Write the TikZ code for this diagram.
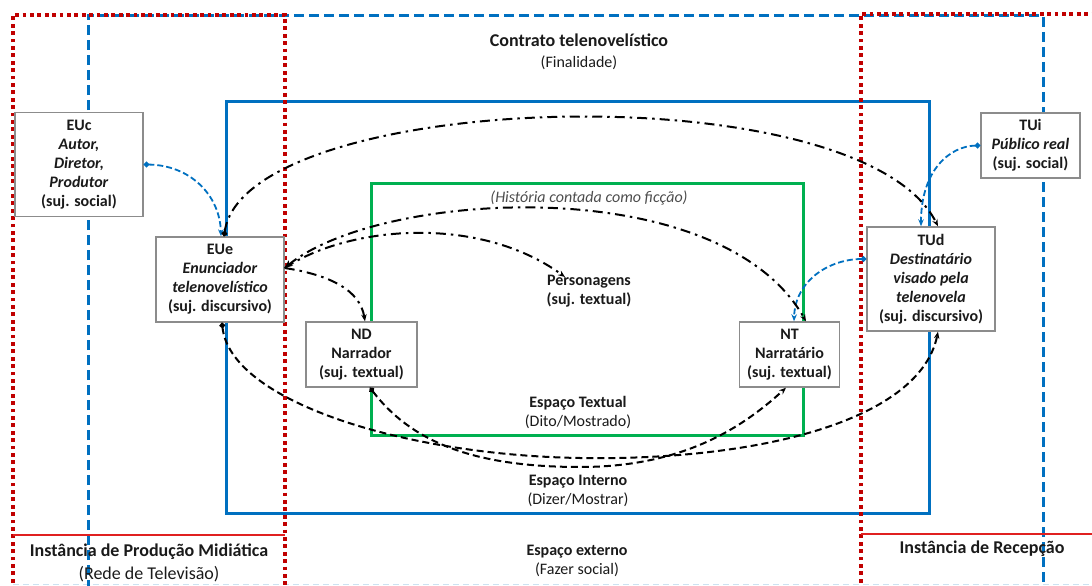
\documentclass[tikz,border=0pt]{standalone}
\usepackage{fontspec}
\setmainfont{Carlito}
\usetikzlibrary{arrows.meta}
\definecolor{fred}{HTML}{C00000}
\definecolor{lred}{HTML}{E02020}
\definecolor{fblue}{HTML}{0070C0}
\definecolor{fgreen}{HTML}{00B050}
\definecolor{bgray}{HTML}{8C8C8C}
\definecolor{txt}{HTML}{1A1A1A}
\definecolor{hist}{HTML}{4D4D4D}
\newcommand{\bodyfnt}{\fontsize{16}{19}\selectfont}
\newcommand{\headfnt}{\fontsize{18}{23}\selectfont}
\begin{document}
\begin{tikzpicture}[x=1pt,y=-1pt,
  redframe/.style={draw=fred,line width=3.8pt,dash pattern=on 3.8pt off 3.6pt},
  blueframe/.style={draw=fblue,line width=3pt,dash pattern=on 10pt off 5pt},
  box/.style={draw=bgray,line width=1.4pt,fill=white,align=center,inner sep=0pt,font=\bodyfnt\bfseries,text=txt},
  lbl/.style={align=center,inner sep=0pt,font=\bodyfnt,text=txt},
  hlbl/.style={align=center,inner sep=0pt,font=\headfnt,text=txt},
  dashdotconn/.style={draw=black,line width=2pt,dash pattern=on 10pt off 5pt on 2.5pt off 5pt},
  dashconn/.style={draw=black,line width=2pt,dash pattern=on 7pt off 4pt},
  blueconn/.style={draw=fblue,line width=1.8pt,dash pattern=on 6pt off 3pt},
  tip/.style={-{Stealth[length=7pt,width=5.5pt]}},
  dottip/.style={{Circle[length=5.5pt]}-{Stealth[length=7pt,width=5.5pt]}},
]
\useasboundingbox (0,0) rectangle (1092,586);
% frames
\draw[draw=fblue!20,line width=1pt,dash pattern=on 6pt off 4pt] (13,584) -- (1092,584);
\draw[blueframe] (88,590) -- (88,16) -- (1043,16) -- (1043,590);
\draw[fblue,line width=3pt] (226,101) rectangle (929,513);
\draw[fgreen,line width=3pt] (371,183) rectangle (803,435);
\draw[redframe] (13,590) -- (13,15) -- (285,15) -- (285,590);
\draw[redframe] (861,590) -- (861,14) -- (1096,14);
\draw[lred,line width=1.2pt] (13,535) -- (285,535);
\draw[lred,line width=1.2pt] (861,534) -- (1092,534);

% boxes
\node[box,minimum width=128pt,minimum height=104pt] (euc) at (79,164.5)
  {EUc\\\textit{Autor,}\\\textit{Diretor,}\\\textit{Produtor}\\(suj. social)};
\node[box,minimum width=128pt,minimum height=85pt] (eue) at (220,279.5)
  {EUe\\\textit{Enunciador}\\\textit{telenovelístico}\\(suj. discursivo)};
\node[box,minimum width=111pt,minimum height=65pt] (nd) at (361.5,354.5)
  {ND\\Narrador\\(suj. textual)};
\node[box,minimum width=100pt,minimum height=65pt] (nt) at (789.5,354.5)
  {NT\\Narratário\\(suj. textual)};
\node[box,minimum width=128pt,minimum height=104pt] (tud) at (931,279)
  {TUd\\\textit{Destinatário}\\\textit{visado pela}\\\textit{telenovela}\\(suj. discursivo)};
\node[box,minimum width=99pt,minimum height=65pt] (tui) at (1030.5,145.5)
  {TUi\\\textit{Público real}\\(suj. social)};

% labels
\node[hlbl] (ctr) at (579,52) {\textbf{Contrato telenovelístico}\\[-2pt]{\bodyfnt(Finalidade)}};
\node[lbl,font=\bodyfnt\itshape,text=hist] (hist) at (589,198) {(História contada como ficção)};
\node[lbl,font=\bodyfnt\bfseries] (pers) at (589,291.5) {Personagens\\(suj. textual)};
\node[lbl] (etx) at (578,412.5) {\textbf{Espaço Textual}\\(Dito/Mostrado)};
\node[lbl] (ein) at (578,491) {\textbf{Espaço Interno}\\(Dizer/Mostrar)};
\node[lbl] (eex) at (577,560.5) {\textbf{Espaço externo}\\(Fazer social)};
\node[hlbl] (iprod) at (149,562.5) {\textbf{Instância de Produção Midiática}\\(Rede de Televisão)};
\node[hlbl] (irec) at (982,549) {\textbf{Instância de Recepção}};
\coordinate (pertip) at (565,277);

% connectors
\draw[blueconn,dottip] (euc.east) .. controls (190,165) and (220,195) .. ([xshift=1pt]eue.north);
\draw[blueconn,dottip] (tui.west) .. controls (950,146) and (921,170) .. ([xshift=-10pt]tud.north);
\draw[blueconn,dottip] ([yshift=20pt]tud.west) .. controls (830,259) and (795,280) .. ([xshift=4.5pt]nt.north);
\draw[dashdotconn,dottip] ([xshift=4pt]eue.north) .. controls (245,90) and (860,70) .. ([xshift=7pt]tud.north);
\draw[dashdotconn,{Stealth[length=8pt,width=7pt]}-{Stealth[length=7pt,width=5.5pt]}] ([yshift=11.5pt]eue.east) .. controls (380,190) and (720,170) .. ([xshift=16.5pt]nt.north);
\draw[dashdotconn,tip] ([yshift=11.5pt]eue.east) .. controls (350,225) and (480,215) .. (pertip);
\draw[dashdotconn,tip] ([yshift=11.5pt]eue.east) .. controls (330,275) and (360,290) .. ([xshift=3.5pt]nd.north);
\draw[dashconn,dottip] ([xshift=2pt]eue.south) .. controls (230,400) and (400,455) .. (580,458) .. controls (760,461) and (920,420) .. ([xshift=7pt]tud.south);
\draw[dashconn,dottip] ([xshift=8.5pt]nd.south) .. controls (410,440) and (470,467) .. (580,467) .. controls (680,467) and (740,430) .. ([xshift=-3.5pt]nt.south);
\end{tikzpicture}
\end{document}
